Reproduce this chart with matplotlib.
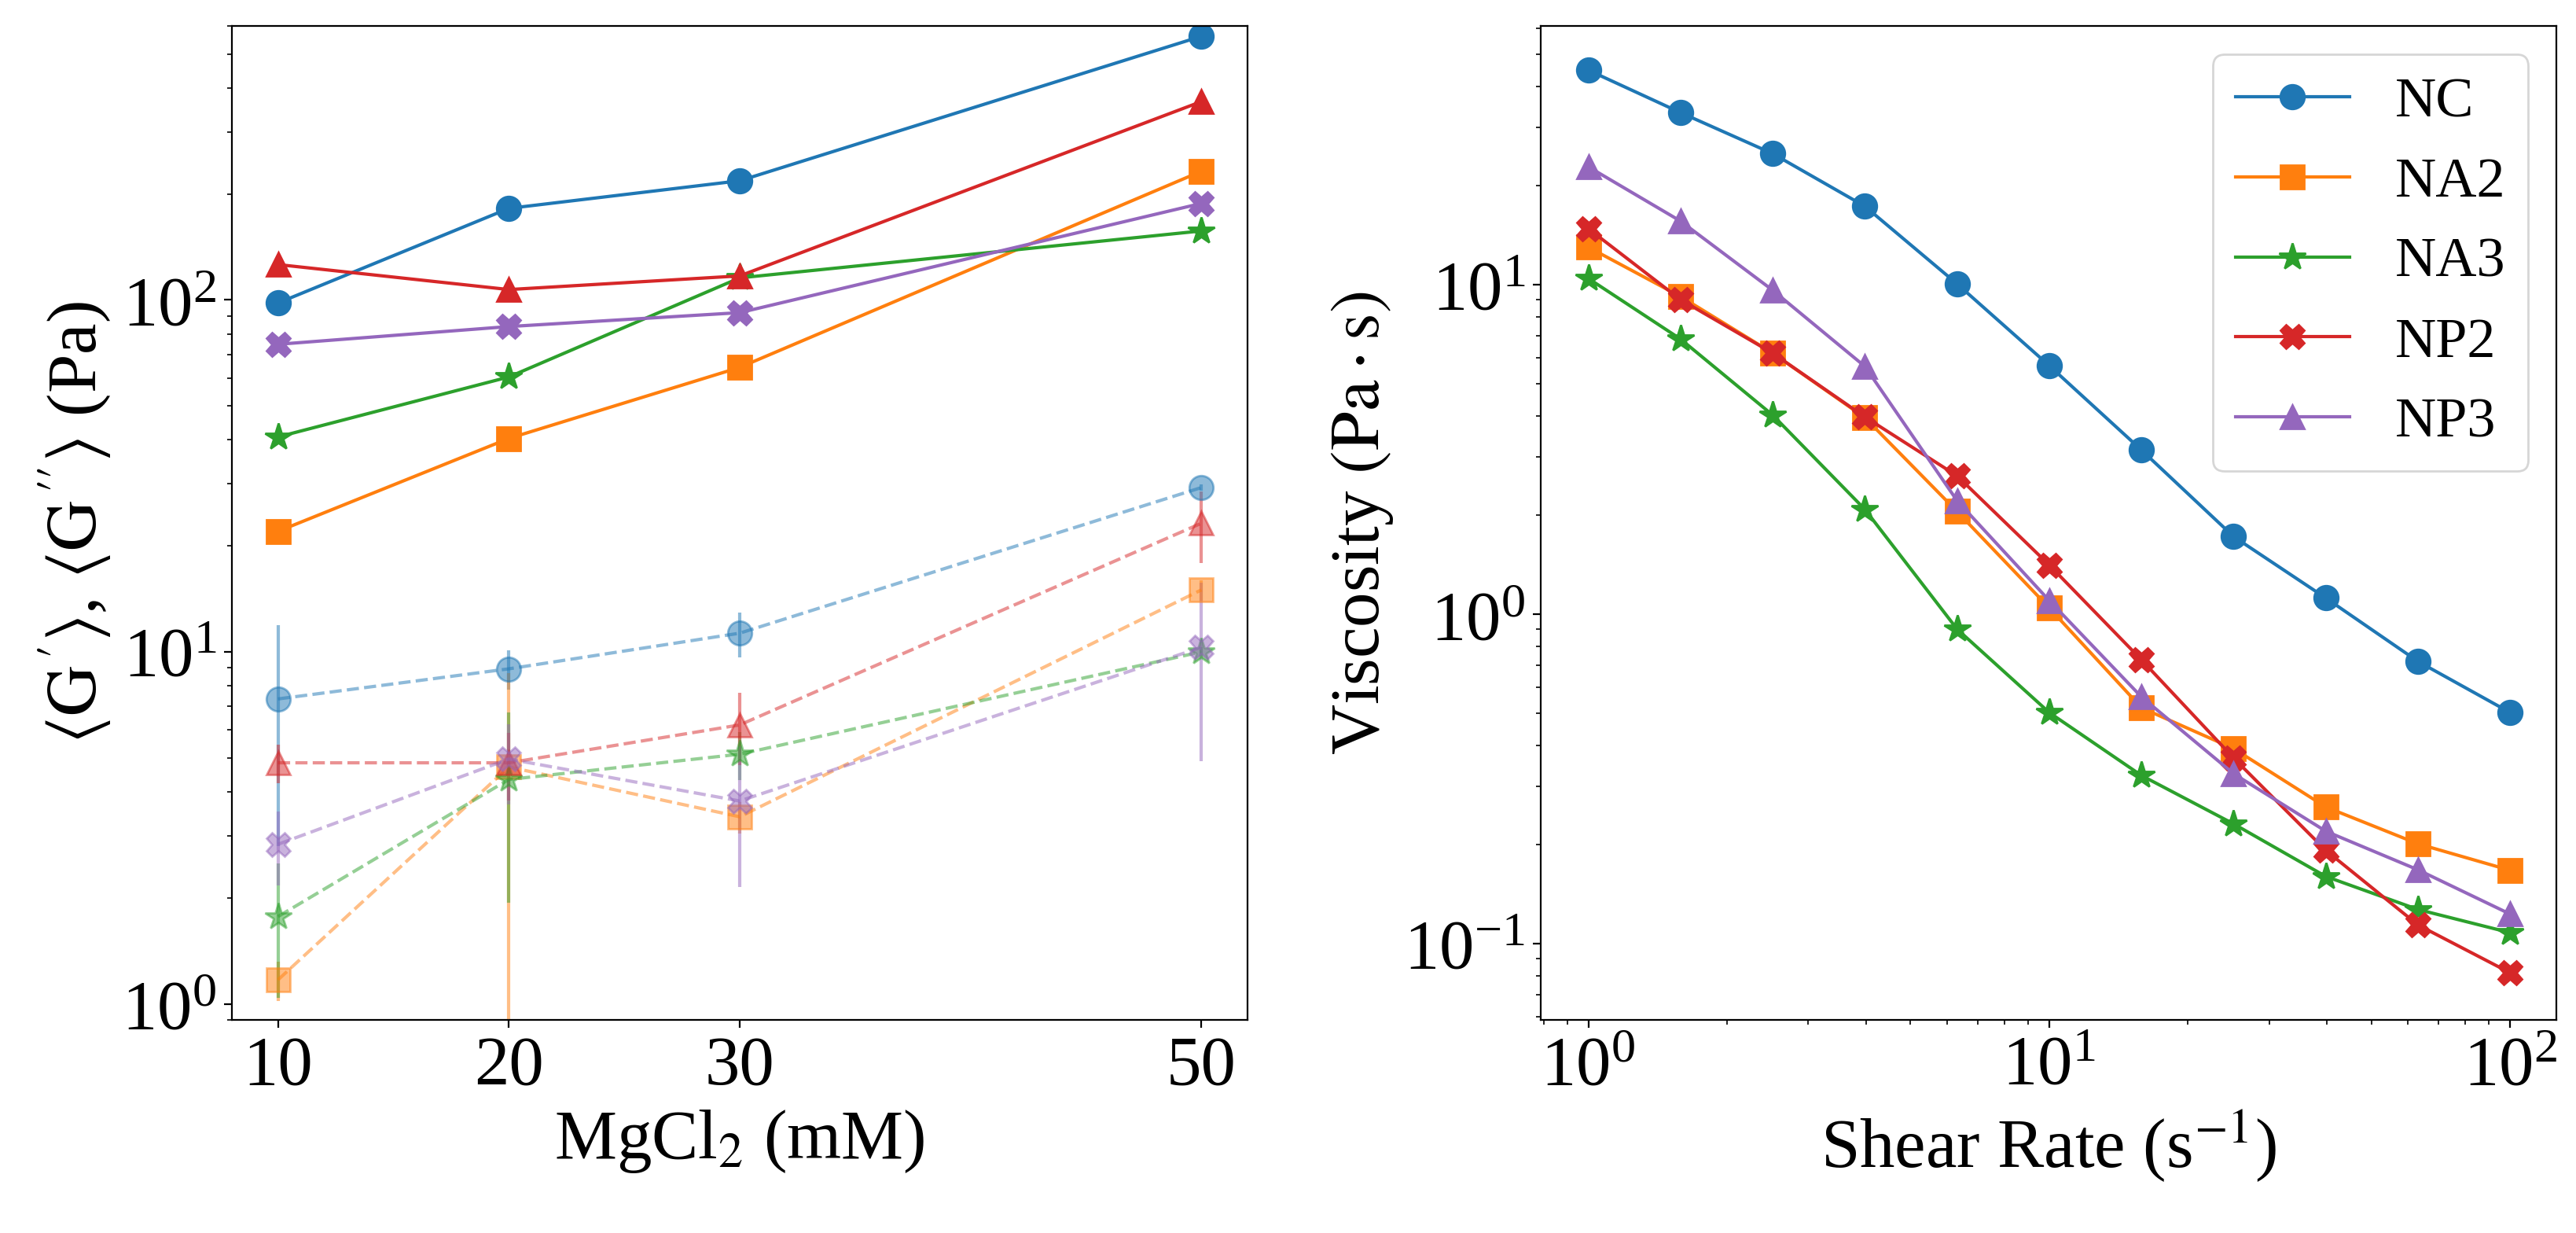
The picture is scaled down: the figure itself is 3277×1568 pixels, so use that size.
import numpy as np
import matplotlib
matplotlib.use("Agg")
import matplotlib.pyplot as plt

plt.rcParams['font.family'] = ['Liberation Serif', 'DejaVu Serif']
plt.rcParams['mathtext.fontset'] = 'stix'
plt.rcParams['font.size'] = 32

# ---- left panel: moduli vs MgCl2 ----
mgcl2 = [10, 20, 30, 50]
samples = ['NC', 'NA2', 'NA3', 'NP2', 'NP3']
colors = ['C0', 'C1', 'C2', 'C3', 'C4']
markers_left = ['o', 's', '*', '^', 'X']
markers_right = ['o', 's', '*', 'X', '^']

g_solid_NC = [98, 182, 218, 561]
g_solid_NA2 = [22.0, 40.4, 64.3, 232]
g_solid_NA3 = [40.8, 60.4, 115.5, 157]
g_solid_NP2 = [126, 107, 117, 366]
g_solid_NP3 = [74.8, 84, 92, 188]

g_dash_NC = [7.35, 8.95, 11.3, 29.3]
g_dash_NA2 = [1.17, 4.71, 3.40, 15.0]
g_dash_NA3 = [1.77, 4.34, 5.12, 10.0]
g_dash_NP2 = [4.84, 4.84, 6.2, 23.2]
g_dash_NP3 = [2.84, 4.96, 3.77, 10.3]

err_dash_NC = [4.55, 1.15, 1.65, 0.6]
err_dash_NA2 = [0.15, 4.0, 0.35, 1.0]
err_dash_NA3 = [0.73, 2.4, 0.8, 0.3]
err_dash_NP2 = [0.6, 1.05, 1.44, 5.3]
err_dash_NP3 = [0.67, 1.27, 1.62, 5.4]

g_solid = [g_solid_NC, g_solid_NA2, g_solid_NA3, g_solid_NP2, g_solid_NP3]
g_dash = [g_dash_NC, g_dash_NA2, g_dash_NA3, g_dash_NP2, g_dash_NP3]
err_dash = [err_dash_NC, err_dash_NA2, err_dash_NA3, err_dash_NP2, err_dash_NP3]

# ---- right panel: viscosity vs shear rate ----
shear_rate = [1.0, 1.585, 2.512, 3.981, 6.310, 10.0, 15.85, 25.12, 39.81, 63.10, 100.0]
visc_NC = [44.8, 33.3, 25.0, 17.3, 10.06, 5.68, 3.15, 1.72, 1.12, 0.719, 0.503]
visc_NA2 = [13.0, 9.21, 6.20, 3.95, 2.05, 1.045, 0.52, 0.391, 0.260, 0.201, 0.167]
visc_NA3 = [10.45, 6.84, 4.02, 2.08, 0.901, 0.503, 0.324, 0.231, 0.160, 0.127, 0.108]
visc_NP2 = [14.8, 9.01, 6.20, 3.97, 2.63, 1.41, 0.727, 0.366, 0.192, 0.114, 0.0816]
visc_NP3 = [22.8, 15.6, 9.62, 5.65, 2.21, 1.10, 0.561, 0.328, 0.2195, 0.1676, 0.123]
visc = [visc_NC, visc_NA2, visc_NA3, visc_NP2, visc_NP3]

fig = plt.figure(figsize=(3277 / 200, 1568 / 200), dpi=200)
ax1 = fig.add_axes([0.0900, 0.1728, 0.3943, 0.8061])
ax2 = fig.add_axes([0.5981, 0.1728, 0.3943, 0.8061])


def msize(m):
    # stars look small at the same size, bump them a bit
    return 11 * (1.15 if m == '*' else 1)


for i in range(5):
    ax1.plot(mgcl2, g_solid[i], color=colors[i], marker=markers_left[i],
             markersize=msize(markers_left[i]), ls='-')
for i in range(5):
    ax1.errorbar(mgcl2, g_dash[i], yerr=err_dash[i], color=colors[i],
                 marker=markers_left[i], markersize=msize(markers_left[i]),
                 ls='--', alpha=0.5)

ax1.set_yscale('log')
ax1.set_ylim(0.9, 600)
ax1.set_xlim(8, 52)
ax1.set_xticks(mgcl2)
ax1.set_xlabel(r'MgCl$_2$ (mM)')
ax1.set_ylabel(r"$\langle\mathrm{G}^{\,\prime}\rangle$, $\langle\mathrm{G}^{\,\prime\prime}\rangle$ (Pa)")

for i in range(5):
    ax2.plot(shear_rate, visc[i], color=colors[i], marker=markers_right[i],
             markersize=msize(markers_right[i]), label=samples[i])
ax2.set_xscale('log')
ax2.set_yscale('log')
ax2.set_xlim(0.788, 126)
ax2.set_ylim(0.0587, 61)
ax2.set_xlabel(r'Shear Rate (s$^{-1}$)')
ax2.set_ylabel(r'Viscosity $(\mathrm{Pa\cdot s})$')
ax2.legend(loc='upper right', fontsize=26)

fig.savefig('out.png', dpi=200)
